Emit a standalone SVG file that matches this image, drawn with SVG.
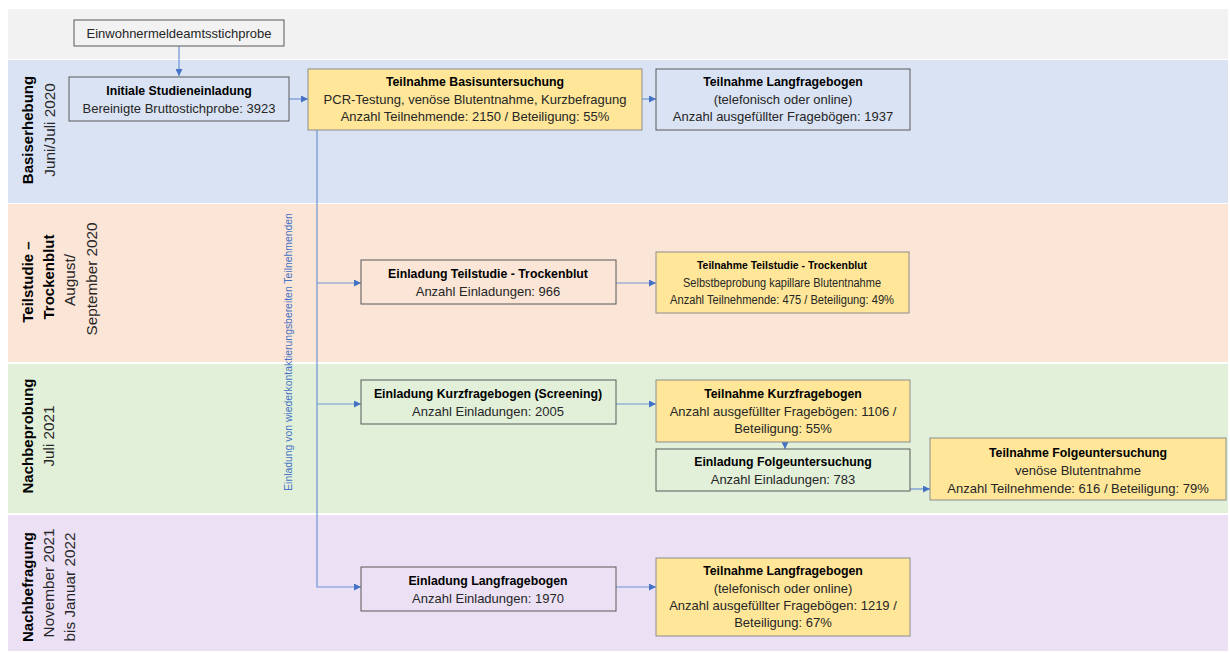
<svg xmlns="http://www.w3.org/2000/svg" width="1230" height="653" viewBox="0 0 1230 653">
<style>
.t{font-family:"Liberation Sans",Arial,sans-serif;font-size:13px;fill:#262626;text-anchor:middle}
.b{font-weight:bold;font-size:12.3px;fill:#000}
.s{font-size:12px}
.sb{font-size:11.6px}
.lb{font-family:"Liberation Sans",Arial,sans-serif;font-size:15px;font-weight:bold;fill:#000;text-anchor:middle}
.ln{font-family:"Liberation Sans",Arial,sans-serif;font-size:15.3px;fill:#262626;text-anchor:middle}
.box{stroke:#595959;stroke-width:1}
.w{fill:#f2f2f2}
.bl{fill:#dae3f3}
.or{fill:#fbe5d6}
.gr{fill:#e2f0d9}
.pu{fill:#ebe0f4}
.y{fill:#ffe699;stroke:#8c8c8c}
.c{fill:none;stroke:#6f93d6;stroke-width:1.2}
</style>
<defs>
<marker id="ah" viewBox="0 0 10 10" refX="10" refY="5" markerWidth="7" markerHeight="7" markerUnits="userSpaceOnUse" orient="auto">
<path d="M0,0 L10,5 L0,10 z" fill="#4472c4"/>
</marker>
</defs>
<rect width="1230" height="653" fill="#ffffff"/>
<g id="bands">
<rect x="8" y="9" width="1220" height="50" class="w"/>
<rect x="8" y="60" width="1220" height="143" class="bl"/>
<rect x="8" y="204" width="1220" height="158" class="or"/>
<rect x="8" y="364" width="1220" height="149" class="gr"/>
<rect x="8" y="515" width="1220" height="136" class="pu"/>
</g>
<g id="lane-labels">
<g transform="translate(28,130) rotate(-90)"><text class="lb" x="0" y="5">Basiserhebung</text></g>
<g transform="translate(50,130) rotate(-90)"><text class="ln" x="0" y="5">Juni/Juli 2020</text></g>
<g transform="translate(28,282) rotate(-90)"><text class="lb" x="0" y="5">Teilstudie –</text></g>
<g transform="translate(49,277) rotate(-90)"><text class="lb" x="0" y="5">Trockenblut</text></g>
<g transform="translate(70,280) rotate(-90)"><text class="ln" x="0" y="5">August/</text></g>
<g transform="translate(92,279) rotate(-90)"><text class="ln" x="0" y="5">September 2020</text></g>
<g transform="translate(28,436) rotate(-90)"><text class="lb" x="0" y="5">Nachbeprobung</text></g>
<g transform="translate(49,436) rotate(-90)"><text class="ln" x="0" y="5">Juli 2021</text></g>
<g transform="translate(28,587) rotate(-90)"><text class="lb" x="0" y="5">Nachbefragung</text></g>
<g transform="translate(49,583) rotate(-90)"><text class="ln" x="0" y="5">November 2021</text></g>
<g transform="translate(70,587) rotate(-90)"><text class="ln" x="0" y="5">bis Januar 2022</text></g>
</g>
<g id="connectors">
<path class="c" d="M179,46 V76" marker-end="url(#ah)"/>
<path class="c" d="M289,99 H308" marker-end="url(#ah)"/>
<path class="c" d="M642,99 H656" marker-end="url(#ah)"/>
<path class="c" d="M317,130 V587 H361" marker-end="url(#ah)"/>
<path class="c" d="M317,283 H361" marker-end="url(#ah)"/>
<path class="c" d="M317,404 H361" marker-end="url(#ah)"/>
<path class="c" d="M616,283 H656" marker-end="url(#ah)"/>
<path class="c" d="M616,404 H656" marker-end="url(#ah)"/>
<path class="c" d="M785,442 V449" marker-end="url(#ah)"/>
<path class="c" d="M910,489 H930" marker-end="url(#ah)"/>
<path class="c" d="M616,587 H656" marker-end="url(#ah)"/>
<g transform="translate(292,352) rotate(-90)"><text x="0" y="0" font-family="Liberation Sans, Arial, sans-serif" font-size="10.4" fill="#4472c4" text-anchor="middle">Einladung von wiederkontaktierungsbereiten Teilnehmenden</text></g>
</g>
<g id="n-einwohner">
<rect x="74" y="20" width="210" height="26" class="box w"/>
<text class="t" x="179" y="38">Einwohnermeldeamtsstichprobe</text>
</g>
<g id="n-initial">
<rect x="69" y="77" width="220" height="44" class="box bl"/>
<text class="t b" x="179" y="95">Initiale Studieneinladung</text>
<text class="t" x="179" y="113">Bereinigte Bruttostichprobe: 3923</text>
</g>
<g id="n-basis">
<rect x="308" y="69" width="334" height="61" class="box y"/>
<text class="t b" x="475" y="86">Teilnahme Basisuntersuchung</text>
<text class="t" x="475" y="104">PCR-Testung, venöse Blutentnahme, Kurzbefragung</text>
<text class="t" x="475" y="121">Anzahl Teilnehmende:  2150 / Beteiligung: 55%</text>
</g>
<g id="n-lang1">
<rect x="656" y="69" width="254" height="61" class="box bl"/>
<text class="t b" x="783" y="86">Teilnahme Langfragebogen</text>
<text class="t" x="783" y="104">(telefonisch oder online)</text>
<text class="t" x="783" y="121">Anzahl ausgefüllter Fragebögen: 1937</text>
</g>
<g id="n-einl-teil">
<rect x="361" y="260" width="255" height="44" class="box or"/>
<text class="t b" x="488" y="278">Einladung Teilstudie - Trockenblut</text>
<text class="t" x="488" y="296">Anzahl Einladungen: 966</text>
</g>
<g id="n-teil">
<rect x="656" y="252" width="253" height="61" class="box y"/>
<text class="t b sb" x="782" y="269" textLength="170" lengthAdjust="spacingAndGlyphs">Teilnahme Teilstudie - Trockenblut</text>
<text class="t s" x="782" y="287" textLength="198" lengthAdjust="spacingAndGlyphs">Selbstbeprobung kapillare Blutentnahme</text>
<text class="t s" x="782" y="304" textLength="224" lengthAdjust="spacingAndGlyphs">Anzahl Teilnehmende: 475 / Beteiligung: 49%</text>
</g>
<g id="n-einl-kurz">
<rect x="361" y="380" width="255" height="44" class="box gr"/>
<text class="t b" x="488" y="398">Einladung Kurzfragebogen (Screening)</text>
<text class="t" x="488" y="416">Anzahl Einladungen: 2005</text>
</g>
<g id="n-kurz">
<rect x="656" y="380" width="254" height="62" class="box y"/>
<text class="t b" x="783" y="398">Teilnahme Kurzfragebogen</text>
<text class="t" x="783" y="416">Anzahl ausgefüllter Fragebögen: 1106 /</text>
<text class="t" x="783" y="433">Beteiligung: 55%</text>
</g>
<g id="n-einl-folge">
<rect x="656" y="449" width="254" height="42" class="box gr"/>
<text class="t b" x="783" y="466">Einladung Folgeuntersuchung</text>
<text class="t" x="783" y="484">Anzahl Einladungen: 783</text>
</g>
<g id="n-folge">
<rect x="930" y="438" width="296" height="62" class="box y"/>
<text class="t b" x="1078" y="457">Teilnahme Folgeuntersuchung</text>
<text class="t" x="1078" y="475">venöse Blutentnahme</text>
<text class="t" x="1078" y="493">Anzahl Teilnehmende: 616 / Beteiligung: 79%</text>
</g>
<g id="n-einl-lang">
<rect x="361" y="567" width="255" height="44" class="box pu"/>
<text class="t b" x="488" y="585">Einladung Langfragebogen</text>
<text class="t" x="488" y="603">Anzahl Einladungen: 1970</text>
</g>
<g id="n-lang2">
<rect x="656" y="558" width="254" height="78" class="box y"/>
<text class="t b" x="783" y="575">Teilnahme Langfragebogen</text>
<text class="t" x="783" y="593">(telefonisch oder online)</text>
<text class="t" x="783" y="610">Anzahl ausgefüllter Fragebögen: 1219 /</text>
<text class="t" x="783" y="627">Beteiligung: 67%</text>
</g>
</svg>
